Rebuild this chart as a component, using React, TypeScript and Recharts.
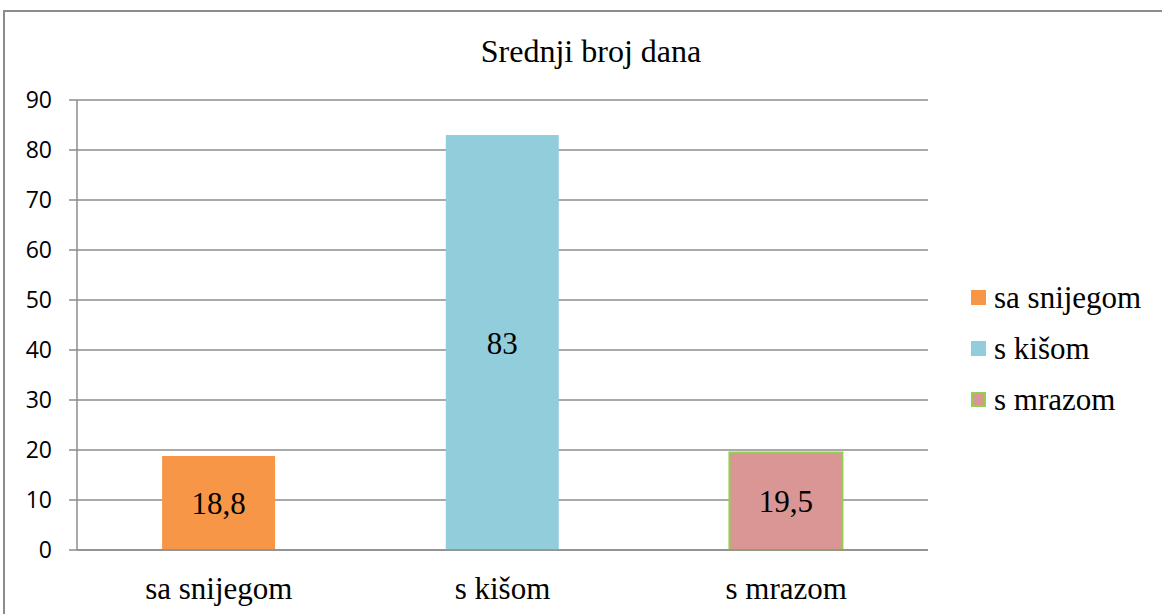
import { Bar, BarChart, CartesianGrid, Cell, LabelList, XAxis, YAxis } from "recharts";

const categories = ["sa snijegom", "s kišom", "s mrazom"];
const values = [18.8, 83, 19.5];
const labels = ["18,8", "83", "19,5"];
const yTicks = [0, 10, 20, 30, 40, 50, 60, 70, 80, 90];

const FILLS = ["#F79646", "#92CDDC", "#D99694"];
const STROKES = ["none", "none", "#92D050"];
const SERIF = "Times New Roman, Liberation Serif, Tinos, serif";
const SANS = "Open Sans, sans-serif";
const GRID = "#8c8c8c";

const data = categories.map((name, i) => ({ name, value: values[i], label: labels[i], pos: i }));

function LegendBox() {
  return (
    <div style={{ position: "absolute", left: 971, top: 272, fontFamily: SERIF, fontSize: 31, color: "#000" }}>
      {categories.map((c, i) => (
        <div key={c} style={{ display: "flex", alignItems: "center", height: 51 }}>
          <span
            style={{
              width: 15,
              height: 15,
              boxSizing: "border-box",
              background: FILLS[i],
              border: STROKES[i] === "none" ? "none" : `2px solid ${STROKES[i]}`,
              marginRight: 8,
            }}
          />
          <span style={{ lineHeight: "36px" }}>{c}</span>
        </div>
      ))}
    </div>
  );
}

export default function App() {
  return (
    <div style={{ position: "absolute", left: 0, top: 0, width: 1162, height: 614, overflow: "hidden", background: "#fff" }}>
      <div
        style={{
          position: "absolute",
          left: 3,
          top: 10,
          width: 1200,
          height: 700,
          borderLeft: `2px solid ${GRID}`,
          borderTop: `2px solid ${GRID}`,
        }}
      />
      <div
        style={{
          position: "absolute",
          left: 0,
          top: 33,
          width: 1182,
          textAlign: "center",
          fontFamily: SERIF,
          fontSize: 32,
          lineHeight: "36px",
          color: "#000",
        }}>
        Srednji broj dana
      </div>
      <div style={{ position: "absolute", left: 0, top: 0 }}>
        <BarChart
          width={1162}
          height={614}
          data={data}
          barCategoryGap="30%"
          margin={{ top: 100, right: 234, bottom: 0, left: 17 }}>
          <CartesianGrid vertical={false} stroke={GRID} strokeWidth={1.5} />
          <XAxis
            dataKey="name"
            xAxisId="cat"
            height={64}
            tickLine={false}
            tickSize={0}
            tickMargin={27}
            axisLine={{ stroke: GRID, strokeWidth: 1.5 }}
            tick={{ fontFamily: SERIF, fontSize: 31, fill: "#000" }}
          />
          <XAxis
            xAxisId="sep"
            type="number"
            dataKey="pos"
            domain={[0, 3]}
            ticks={[0, 1, 2, 3]}
            height={0}
            tick={false}
            tickSize={12}
            tickLine={{ stroke: GRID, strokeWidth: 1.5 }}
            axisLine={false}
          />
          <YAxis
            width={60}
            domain={[0, 90]}
            ticks={yTicks}
            tickSize={8}
            tickMargin={17}
            tickLine={{ stroke: GRID, strokeWidth: 1.5 }}
            axisLine={{ stroke: GRID, strokeWidth: 1.5 }}
            tick={{ fontFamily: SANS, fontSize: 23, fill: "#000" }}
          />
          <Bar dataKey="value" xAxisId="cat" isAnimationActive={false}>
            {data.map((d, i) => (
              <Cell key={d.name} fill={FILLS[i]} stroke={STROKES[i]} strokeWidth={2} />
            ))}
            <LabelList
              dataKey="label"
              position="center"
              style={{ fontFamily: SERIF, fontSize: 31, fill: "#000" }}
            />
          </Bar>
        </BarChart>
      </div>
      <LegendBox />
    </div>
  );
}
